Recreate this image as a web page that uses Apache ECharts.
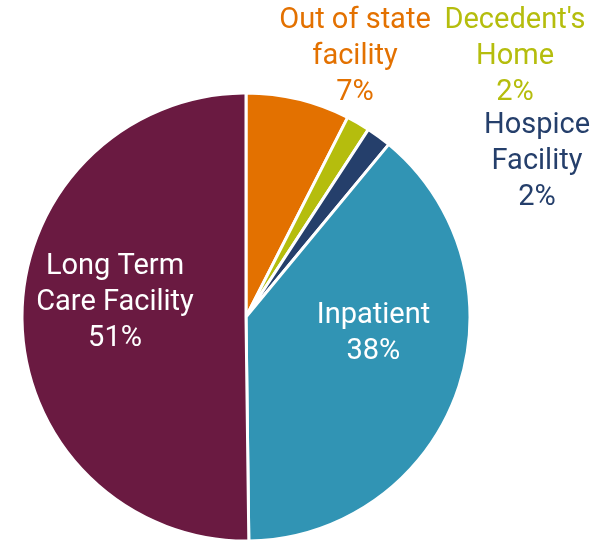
<!DOCTYPE html>
<html>
<head>
<meta charset="utf-8">
<script src="https://cdn.jsdelivr.net/npm/echarts@6/dist/echarts.min.js"></script>
<style>
  html, body { margin: 0; padding: 0; background: #fff; }
  #chart { width: 597px; height: 541px; }
</style>
</head>
<body>
<div id="chart"></div>
<script>
// place of death shares, clockwise from 12 o'clock
const categories = ["Out of state\nfacility", "Decedent's\nHome", "Hospice\nFacility", "Inpatient", "Long Term\nCare Facility"];
const shares = [7.5, 1.7, 1.8, 38.8, 50.2];
const pctLabels = ["7%", "2%", "2%", "38%", "51%"];
const colors = ["#E37100", "#B5BD0D", "#253F6B", "#3194B4", "#6A1A41"];

// big slices get inside labels, small ones sit out to the upper right
const labelPos = ["outside", "outside", "outside", "inside", "inside"];
const labelShift = [[0, 0], [0, 0], [0, 0], [19, -22], [-16, -15]];
const outsideSpot = [[355, 57], [515, 57], [537, 162]];

const chart = echarts.init(document.getElementById("chart"));

const data = categories.map((name, i) => ({
  name: name,
  value: shares[i],
  itemStyle: { color: colors[i] },
  label: {
    position: labelPos[i],
    color: labelPos[i] === "inside" ? "#fff" : colors[i],
    offset: labelShift[i]
  }
}));

chart.setOption({
  animation: false,
  series: [{
    type: "pie",
    center: [246, 317],
    radius: 224,
    startAngle: 90,
    clockwise: true,
    avoidLabelOverlap: false,
    itemStyle: { borderColor: "#fff", borderWidth: 3 },
    label: {
      show: true,
      fontFamily: "Roboto",
      fontSize: 29,
      lineHeight: 36,
      align: "center",
      formatter: p => p.name + "\n" + pctLabels[p.dataIndex]
    },
    labelLine: { show: false },
    labelLayout: p => {
      const s = outsideSpot[p.dataIndex];
      if (!s) return {};
      return { x: s[0], y: s[1], align: "center", verticalAlign: "middle" };
    },
    data: data
  }]
});
</script>
</body>
</html>
